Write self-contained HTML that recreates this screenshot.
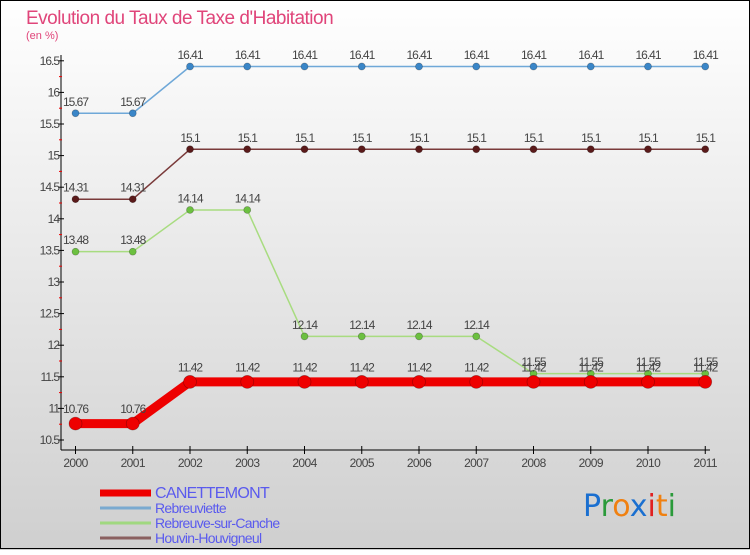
<!DOCTYPE html>
<html><head><meta charset="utf-8"><style>
html,body{margin:0;padding:0}
body{width:750px;height:550px;overflow:hidden;font-family:"Liberation Sans",sans-serif}
</style></head><body>
<svg id="c" width="750" height="550" xmlns="http://www.w3.org/2000/svg">
<defs><linearGradient id="bg" x1="0" y1="0" x2="0" y2="1"><stop offset="0" stop-color="#ffffff"/><stop offset="1" stop-color="#cfcfcf"/></linearGradient></defs>
<rect x="0" y="0" width="750" height="550" fill="url(#bg)"/>
<rect x="0.5" y="0.5" width="749" height="548" fill="none" stroke="#000"/>
<text x="26" y="24" font-size="19" fill="#e0457a" letter-spacing="-0.5">Evolution du Taux de Taxe d'Habitation</text>
<text x="26" y="39" font-size="11" fill="#e0457a">(en %)</text>
<g id="axes"></g><g id="series"></g><g id="legend"></g>
<g font-size="30" font-family="'DejaVu Sans',sans-serif">
<text x="583" y="516"><tspan fill="#1a6fd0">P</tspan><tspan fill="#2a9a3a">r</tspan><tspan fill="#f08010">o</tspan><tspan fill="#1a6fd0">x</tspan><tspan fill="#e02020">i</tspan><tspan fill="#f08010">t</tspan><tspan fill="#2a9a3a">i</tspan></text>
</g>
</svg>
<script>
const years=[2000,2001,2002,2003,2004,2005,2006,2007,2008,2009,2010,2011];
const yTicks=[10.5,11,11.5,12,12.5,13,13.5,14,14.5,15,15.5,16,16.5];
const canettemont=[10.76,10.76,11.42,11.42,11.42,11.42,11.42,11.42,11.42,11.42,11.42,11.42];
const rebreuviette=[15.67,15.67,16.41,16.41,16.41,16.41,16.41,16.41,16.41,16.41,16.41,16.41];
const rebreuveSurCanche=[13.48,13.48,14.14,14.14,12.14,12.14,12.14,12.14,11.55,11.55,11.55,11.55];
const houvin=[14.31,14.31,15.1,15.1,15.1,15.1,15.1,15.1,15.1,15.1,15.1,15.1];
const NS="http://www.w3.org/2000/svg";
const X=i=>75.5+i*57.25;
const Y=v=>440-(v-10.5)*63.2;
function mk(p,t,a){const e=document.createElementNS(NS,t);for(const k in a)e.setAttribute(k,a[k]);p.appendChild(e);return e;}
const ax=document.getElementById('axes');
let l=mk(ax,'line',{x1:61,y1:55,x2:61,y2:450,stroke:'#000'});


l=mk(ax,'line',{x1:61,y1:450,x2:710,y2:450,stroke:'#000'});


yTicks.forEach((v,i)=>{
 mk(ax,'line',{x1:58,y1:Y(v),x2:64,y2:Y(v),stroke:'#000'});
 if(i<yTicks.length-1) mk(ax,'line',{x1:59,y1:Y(v+0.25),x2:62,y2:Y(v+0.25),stroke:'#e00'});
 const t=mk(ax,'text',{x:59,y:Y(v)+4,'font-size':12,fill:'#444','text-anchor':'end','letter-spacing':'-1'});
 t.textContent=String(v);
 
 
});
years.forEach((yr,i)=>{
 mk(ax,'line',{x1:X(i),y1:446,x2:X(i),y2:454,stroke:'#000'});
 const t=mk(ax,'text',{x:X(i),y:467,'font-size':12,fill:'#444','text-anchor':'middle','letter-spacing':'-0.6'});
 t.textContent=yr;
 
 
});
const sg=document.getElementById('series');
const defs=[
 {d:rebreuviette,c:'#6fa8d8',m:'#3a86c8',w:1.5,r:3.5,n:'rebreuviette'},
 {d:houvin,c:'#7a3a3a',m:'#5a1a1a',w:1.5,r:3.5,n:'houvin-houvigneul'},
 {d:rebreuveSurCanche,c:'#a8dc80',m:'#6cc040',w:1.5,r:3.5,n:'rebreuve-sur-canche'},
 {d:canettemont,c:'#ee0000',m:'#ee0000',w:9,r:6.5,n:'canettemont'}
];
defs.forEach(s=>{
 const g=mk(sg,'g',{});
 
 
 const p=mk(g,'polyline',{points:s.d.map((v,i)=>X(i)+','+Y(v)).join(' '),fill:'none',stroke:s.c,'stroke-width':s.w,'stroke-linejoin':'round'});
 
 
 s.d.forEach((v,i)=>{
  const c=mk(g,'circle',{cx:X(i),cy:Y(v),r:s.r,fill:s.m,stroke:'rgba(0,0,0,0.3)','stroke-width':0.7});
  
  
  const t=mk(g,'text',{x:X(i),y:Y(v)-(s.r+4),'font-size':12,fill:'#444','text-anchor':'middle','letter-spacing':'-1'});
  t.textContent=String(v);
  
  
 });
});
const lg=document.getElementById('legend');
const items=[['CANETTEMONT','#ee0000',7,16],['Rebreuviette','#7aaad0',3,14],['Rebreuve-sur-Canche','#a0d880',3,14],['Houvin-Houvigneul','#8a6060',3,14]];
items.forEach((it,i)=>{
 const y=493+i*15;
 const g=mk(lg,'g',{});
 
 
 mk(g,'rect',{x:100,y:y-it[2]/2,width:51,height:it[2],fill:it[1]});
 const t=mk(g,'text',{x:155,y:y+5,'font-size':it[3],fill:'#5a5aee','letter-spacing':'-0.7'});
 t.textContent=it[0];
});
</script>
</body></html>
